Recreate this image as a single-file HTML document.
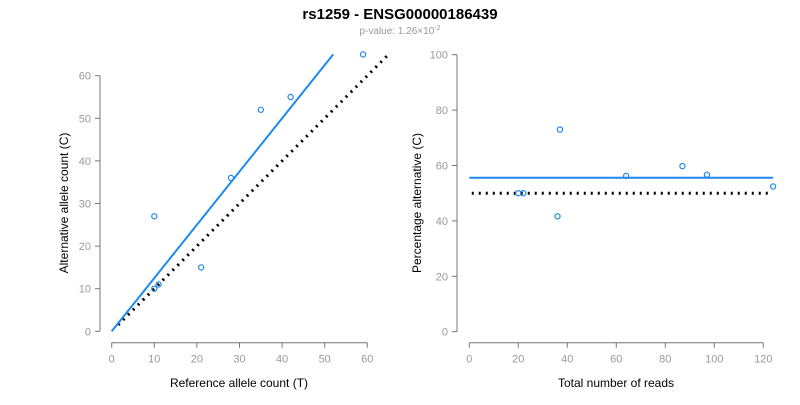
<!DOCTYPE html>
<html><head><meta charset="utf-8"><style>
body{margin:0;background:#fff;font-family:"Liberation Sans",sans-serif;}
svg text{font-family:"Liberation Sans",sans-serif;}
</style></head><body>
<svg id="c" width="800" height="400" xmlns="http://www.w3.org/2000/svg">
<text x="400" y="19" text-anchor="middle" font-size="15" font-weight="bold">rs1259 - ENSG00000186439</text>
<text x="400" y="34" text-anchor="middle" font-size="10" fill="#999">p-value: 1.26×10<tspan dy="-4" font-size="7">-2</tspan></text>
<g id="left"></g>
<g id="right"></g>
<text x="239" y="387" text-anchor="middle" font-size="12">Reference allele count (T)</text>
<text transform="translate(68,203) rotate(-90)" text-anchor="middle" font-size="12">Alternative allele count (C)</text>
<text x="616" y="387" text-anchor="middle" font-size="12">Total number of reads</text>
<text transform="translate(421,203) rotate(-90)" text-anchor="middle" font-size="12">Percentage alternative (C)</text>
</svg>
<script>
const refCounts=[10,10,11,21,28,35,42,59];
const altCounts=[27,10,11,15,36,52,55,65];
const leftXTicks=[0,10,20,30,40,50,60];
const leftYTicks=[0,10,20,30,40,50,60];
const rightXTicks=[0,20,40,60,80,100,120];
const rightYTicks=[0,20,40,60,80,100];
const fitSlope=1.25;
const meanPct=55.6;
const NS="http://www.w3.org/2000/svg";
function mk(p,t,a){const e=document.createElementNS(NS,t);for(const k in a)e.setAttribute(k,a[k]);p.appendChild(e);return e;}
const L=document.getElementById('left'),R=document.getElementById('right');
const lx=v=>111.7+v*4.26, ly=v=>331.3-v*4.26;
const rx=v=>469.3+v*2.45, ry=v=>331.7-v*2.77;
function axes(g,xs,ys,xt,yt,axX,axY,nm){
  let a=mk(g,'line',{x1:xs(xt[0]),x2:xs(xt[xt.length-1]),y1:axY,y2:axY,stroke:'#777'});
  
  xt.forEach(t=>{mk(g,'line',{x1:xs(t),x2:xs(t),y1:axY,y2:axY+5,stroke:'#777'});
    const tx=mk(g,'text',{x:xs(t),y:axY+20,'text-anchor':'middle','font-size':11,fill:'#999'});tx.textContent=t;
    });
  let b=mk(g,'line',{x1:axX,x2:axX,y1:ys(yt[0]),y2:ys(yt[yt.length-1]),stroke:'#777'});
  
  yt.forEach(t=>{mk(g,'line',{x1:axX-5,x2:axX,y1:ys(t),y2:ys(t),stroke:'#777'});
    const tx=mk(g,'text',{x:axX-9,y:ys(t)+4,'text-anchor':'end','font-size':11,fill:'#999'});tx.textContent=t;
    });
}
axes(L,lx,ly,leftXTicks,leftYTicks,100,342.7,'left');
axes(R,rx,ry,rightXTicks,rightYTicks,457,342.7,'right');
// left lines
let d=mk(L,'line',{x1:lx(1.5),y1:ly(1.5),x2:lx(65),y2:ly(65),stroke:'#000','stroke-width':3,'stroke-dasharray':'2,5'});

let f=mk(L,'line',{x1:lx(0),y1:ly(0),x2:lx(65/fitSlope),y2:ly(65),stroke:'#1e88f0','stroke-width':2});

// right lines
const totals=refCounts.map((r,i)=>r+altCounts[i]);
const pcts=altCounts.map((a,i)=>100*a/totals[i]);
const maxT=Math.max(...totals);
let d2=mk(R,'line',{x1:rx(1),y1:ry(50),x2:rx(maxT-2),y2:ry(50),stroke:'#000','stroke-width':3,'stroke-dasharray':'2,5'});

let m=mk(R,'line',{x1:rx(0),y1:ry(meanPct),x2:rx(maxT),y2:ry(meanPct),stroke:'#1e88f0','stroke-width':2});

refCounts.forEach((r,i)=>{
  const p=mk(L,'circle',{cx:lx(r),cy:ly(altCounts[i]),r:2.6,fill:'none',stroke:'#1e88f0','stroke-width':1.2});
  
  const q=mk(R,'circle',{cx:rx(totals[i]),cy:ry(pcts[i]),r:2.6,fill:'none',stroke:'#1e88f0','stroke-width':1.2});
  
});
</script>
</body></html>
